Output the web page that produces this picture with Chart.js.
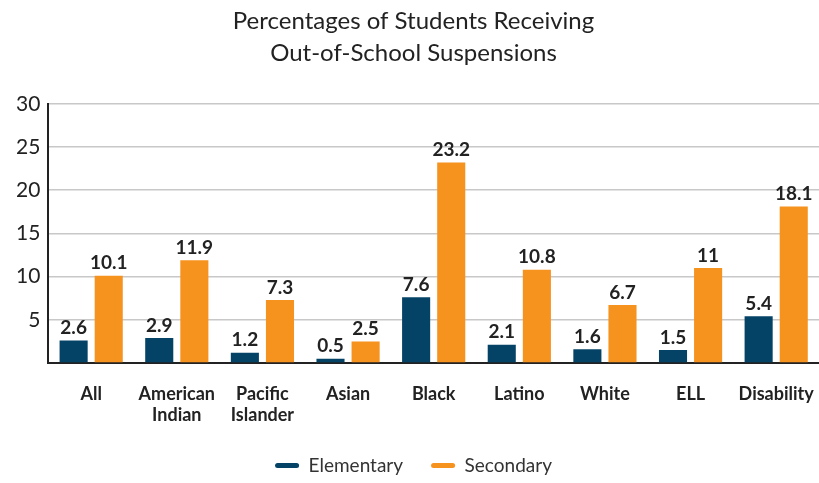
<!DOCTYPE html>
<html>
<head>
<meta charset="utf-8">
<script src="https://cdn.jsdelivr.net/npm/chart.js@4.4.0/dist/chart.umd.min.js"></script>
<style>
  body { margin: 0; background: #fff; }
  #wrap { width: 819px; height: 483px; }
</style>
</head>
<body>
<div id="wrap"><canvas id="suspChart" width="819" height="483"></canvas></div>
<script>
// chart data
var categories = [['All'], ['American', 'Indian'], ['Pacific', 'Islander'], ['Asian'], ['Black'], ['Latino'], ['White'], ['ELL'], ['Disability']];
var elementary = [2.6, 2.9, 1.2, 0.5, 7.6, 2.1, 1.6, 1.5, 5.4];
var secondary = [10.1, 11.9, 7.3, 2.5, 23.2, 10.8, 6.7, 11, 18.1];
var yTicks = [5, 10, 15, 20, 25, 30];

// draws the value above each bar
var valueLabels = {
    id: 'valueLabels',
    afterDatasetsDraw: function(chart) {
        var ctx = chart.ctx;
        ctx.save();
        ctx.font = 'bold 19px Lato';
        ctx.fillStyle = '#222';
        ctx.textAlign = 'center';
        ctx.textBaseline = 'bottom';
        chart.data.datasets.forEach(function(ds, i) {
            chart.getDatasetMeta(i).data.forEach(function(bar, j) {
                ctx.fillText(String(ds.data[j]), bar.x, bar.y - 3);
            });
        });
        ctx.restore();
    }
};

var ctx = document.getElementById('suspChart').getContext('2d');
var myChart = new Chart(ctx, {
    type: 'bar',
    data: {
        labels: categories,
        datasets: [{
            label: 'Elementary',
            data: elementary,
            backgroundColor: '#054366'
        }, {
            label: 'Secondary',
            data: secondary,
            backgroundColor: '#f6921e'
        }]
    },
    options: {
        responsive: false,
        animation: false,
        layout: { padding: { left: 8, right: 0, top: 0, bottom: -2 } },
        datasets: {
            bar: { categoryPercentage: 0.82, barPercentage: 0.8 }
        },
        plugins: {
            title: {
                display: true,
                text: ['Percentages of Students Receiving', 'Out-of-School Suspensions'],
                color: '#222',
                font: { family: 'Lato', size: 24, weight: 'normal', lineHeight: 1.35 },
                padding: { top: 5, bottom: 34 }
            },
            legend: {
                position: 'bottom',
                labels: {
                    color: '#333',
                    font: { family: 'Lato', size: 19 },
                    boxWidth: 24,
                    boxHeight: 5,
                    useBorderRadius: true,
                    borderRadius: 2.5,
                    padding: 28
                }
            },
            tooltip: { enabled: false }
        },
        scales: {
            x: {
                grid: { display: false },
                border: { color: '#222', width: 2 },
                afterFit: function(axis) {
                    axis.height = 65;
                    axis.paddingRight = 0;
                },
                ticks: {
                    color: '#222',
                    font: { family: 'Lato', size: 18, weight: 'bold', lineHeight: 1.2 },
                    padding: 12
                }
            },
            y: {
                min: 0,
                max: 30,
                afterBuildTicks: function(axis) {
                    axis.ticks = [0].concat(yTicks).map(function(v) { return { value: v }; });
                },
                grid: { color: '#c8c8c8', lineWidth: 1.5, drawTicks: false },
                border: { color: '#222', width: 2 },
                ticks: {
                    color: '#222',
                    font: { family: 'Lato', size: 21 },
                    padding: 8,
                    callback: function(v) { return v === 0 ? '' : v; }
                }
            }
        }
    },
    plugins: [valueLabels]
});
</script>
</body>
</html>
